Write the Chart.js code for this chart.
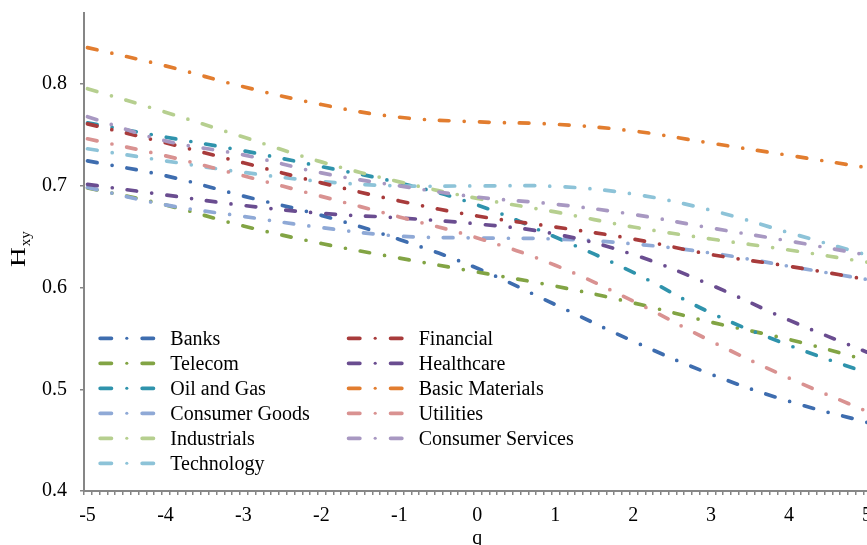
<!DOCTYPE html>
<html>
<head>
<meta charset="utf-8">
<script src="https://cdn.jsdelivr.net/npm/chart.js@4/dist/chart.umd.min.js"></script>
<style>
  html, body { margin: 0; padding: 0; overflow: hidden; background: #ffffff; }
  #wrap { width: 900px; height: 545px; }
</style>
</head>
<body>
<div id="wrap"><canvas id="chart" width="900" height="545"></canvas></div>
<script>
// q values at which each sector's H_xy(q) is given
const qValues = [-5, -4, -3, -2, -1, 0, 1, 2, 3, 4, 5];

const banks            = [0.7246, 0.7100, 0.6900, 0.6710, 0.6473, 0.6190, 0.5833, 0.5473, 0.5148, 0.4882, 0.4675];
const telecom          = [0.6980, 0.6813, 0.6606, 0.6434, 0.6290, 0.6153, 0.6015, 0.5850, 0.5660, 0.5490, 0.5286];
const oilAndGas        = [0.7620, 0.7480, 0.7345, 0.7190, 0.7030, 0.6813, 0.6497, 0.6150, 0.5750, 0.5433, 0.5160];
const consumerGoods    = [0.6985, 0.6813, 0.6700, 0.6590, 0.6507, 0.6488, 0.6478, 0.6430, 0.6340, 0.6210, 0.6080];
const industrials      = [0.7956, 0.7725, 0.7480, 0.7236, 0.7040, 0.6877, 0.6744, 0.6596, 0.6478, 0.6370, 0.6250];
const technology       = [0.7365, 0.7246, 0.7133, 0.7044, 0.7000, 0.7000, 0.6995, 0.6920, 0.6760, 0.6540, 0.6320];
const financial        = [0.7610, 0.7424, 0.7227, 0.7030, 0.6852, 0.6704, 0.6596, 0.6478, 0.6325, 0.6210, 0.6080];
const healthcare       = [0.7015, 0.6911, 0.6808, 0.6730, 0.6685, 0.6626, 0.6527, 0.6325, 0.6025, 0.5680, 0.5365];
const basicMaterials   = [0.8360, 0.8180, 0.7975, 0.7800, 0.7675, 0.7630, 0.7606, 0.7540, 0.7420, 0.7300, 0.7180];
const utilities        = [0.7463, 0.7296, 0.7099, 0.6897, 0.6695, 0.6488, 0.6220, 0.5867, 0.5473, 0.5110, 0.4783];
const consumerServices = [0.7680, 0.7443, 0.7305, 0.7128, 0.7000, 0.6890, 0.6820, 0.6720, 0.6586, 0.6458, 0.6320];

const seriesNames = ['Banks', 'Telecom', 'Oil and Gas', 'Consumer Goods', 'Industrials', 'Technology',
                     'Financial', 'Healthcare', 'Basic Materials', 'Utilities', 'Consumer Services'];
const seriesValues = [banks, telecom, oilAndGas, consumerGoods, industrials, technology,
                      financial, healthcare, basicMaterials, utilities, consumerServices];
const seriesColors = ['#3e6daf', '#82a444', '#2f93ac', '#8fa9d6', '#b6cf8f', '#8dc3d8',
                      '#a83b3b', '#6a4d90', '#e27d2f', '#d99291', '#a898c2'];

const yTickValues = [0.4, 0.5, 0.6, 0.7, 0.8];
const xTickLabels = [-5, -4, -3, -2, -1, 0, 1, 2, 3, 4, 5];

const FONT = "'Liberation Serif', 'Times New Roman', serif";
const AXIS_GREY = '#868686';
const X_MIN = -5.045, X_MAX = 5.423;
const Y_MIN = 0.4, Y_MAX = 0.87;
const DASH = [9.7, 15.15, 0, 15.15];
const LINE_W = 3.7;

const isMajor = v => xTickLabels.some(t => Math.abs(t - v) < 1e-9);

// minor tick marks every 0.1 from the axis start, plus labelled integer ticks
const xTickValues = (() => {
  const out = [];
  for (let k = 0; X_MIN + k * 0.1 <= X_MAX + 1e-9; k++) out.push(+(X_MIN + k * 0.1).toFixed(4));
  xTickLabels.forEach(v => out.push(v));
  return out.sort((a, b) => a - b);
})();

// legend entries, two columns
const legendLayout = { rowY: [338.3, 363.3, 388.3, 413.3, 438.3, 463.3],
                       colX: [98.3, 346.7], sampleLen: 57, textGap: 15 };

const overlay = {
  id: 'overlay',
  afterDraw(chart) {
    const c = chart.ctx;
    c.save();
    // legend
    seriesNames.forEach((name, i) => {
      const col = i < 6 ? 0 : 1;
      const row = i < 6 ? i : i - 6;
      const x0 = legendLayout.colX[col];
      const y = legendLayout.rowY[row];
      c.strokeStyle = seriesColors[i];
      c.fillStyle = seriesColors[i];
      c.lineWidth = LINE_W;
      c.lineCap = 'round';
      c.setLineDash([]);
      c.beginPath();
      c.moveTo(x0 + LINE_W / 2, y); c.lineTo(x0 + 15 - LINE_W / 2, y);
      c.moveTo(x0 + legendLayout.sampleLen - 15 + LINE_W / 2, y); c.lineTo(x0 + legendLayout.sampleLen - LINE_W / 2, y);
      c.stroke();
      c.beginPath();
      c.arc(x0 + legendLayout.sampleLen / 2, y, LINE_W / 2 * 0.85, 0, Math.PI * 2);
      c.fill();
      c.fillStyle = '#000';
      c.font = '20px ' + FONT;
      c.textAlign = 'left';
      c.textBaseline = 'alphabetic';
      c.fillText(name, x0 + legendLayout.sampleLen + legendLayout.textGap, y + 6.7);
    });
    // axis titles
    const xs = chart.scales.x;
    c.fillStyle = '#000';
    c.font = '20px ' + FONT;
    c.textAlign = 'center';
    c.fillText('q', xs.getPixelForValue(0), 544);
    c.save();
    c.translate(25, 267);
    c.rotate(-Math.PI / 2);
    c.textAlign = 'left';
    c.font = '21px ' + FONT;
    c.save();
    c.scale(1.3, 1);
    c.fillText('H', 0, 0);
    c.restore();
    const hw = c.measureText('H').width * 1.3;
    c.font = '15px ' + FONT;
    c.fillText('xy', hw + 1, 4.5);
    c.restore();
    c.restore();
  }
};

new Chart(document.getElementById('chart'), {
  type: 'line',
  data: {
    datasets: seriesNames.map((name, i) => ({
      label: name,
      data: qValues.map((q, k) => ({ x: q, y: seriesValues[i][k] })),
      borderColor: seriesColors[i],
      backgroundColor: seriesColors[i],
      borderWidth: LINE_W,
      borderDash: DASH,
      borderCapStyle: 'round',
      borderJoinStyle: 'round',
      pointRadius: 0,
      tension: 0.4,
      fill: false,
      order: seriesNames.length - i
    }))
  },
  options: {
    responsive: false,
    animation: false,
    devicePixelRatio: 1,
    layout: { padding: { top: 13, left: 0, right: 0, bottom: 0 } },
    plugins: { legend: { display: false }, tooltip: { enabled: false } },
    scales: {
      x: {
        type: 'linear',
        min: X_MIN,
        max: X_MAX,
        afterBuildTicks: s => { s.ticks = xTickValues.map(v => ({ value: v })); },
        afterFit: s => { s.height = 54; s.paddingLeft = 0; s.paddingRight = 0; },
        grid: {
          drawOnChartArea: false, drawTicks: true, tickLength: 4, lineWidth: 1.5,
          color: ctx => (ctx.tick && isMajor(ctx.tick.value)) ? 'rgba(0,0,0,0)' : AXIS_GREY
        },
        border: { display: true, color: AXIS_GREY, width: 2 },
        ticks: {
          autoSkip: false, maxRotation: 0, minRotation: 0, padding: 9, color: '#000',
          font: { family: FONT, size: 20 },
          callback: v => isMajor(v) ? String(Math.round(v)) : ''
        }
      },
      y: {
        type: 'linear',
        min: Y_MIN,
        max: Y_MAX,
        afterBuildTicks: s => { s.ticks = yTickValues.map(v => ({ value: v })); },
        afterFit: s => { s.width = 84; s.paddingTop = 0; s.paddingBottom = 0; },
        grid: { drawOnChartArea: false, drawTicks: true, tickLength: 4, lineWidth: 1.5, color: AXIS_GREY },
        border: { display: true, color: AXIS_GREY, width: 2 },
        ticks: {
          padding: 13, color: '#000', font: { family: FONT, size: 20 },
          callback: v => v.toFixed(1)
        }
      }
    }
  },
  plugins: [overlay]
});
</script>
</body>
</html>
